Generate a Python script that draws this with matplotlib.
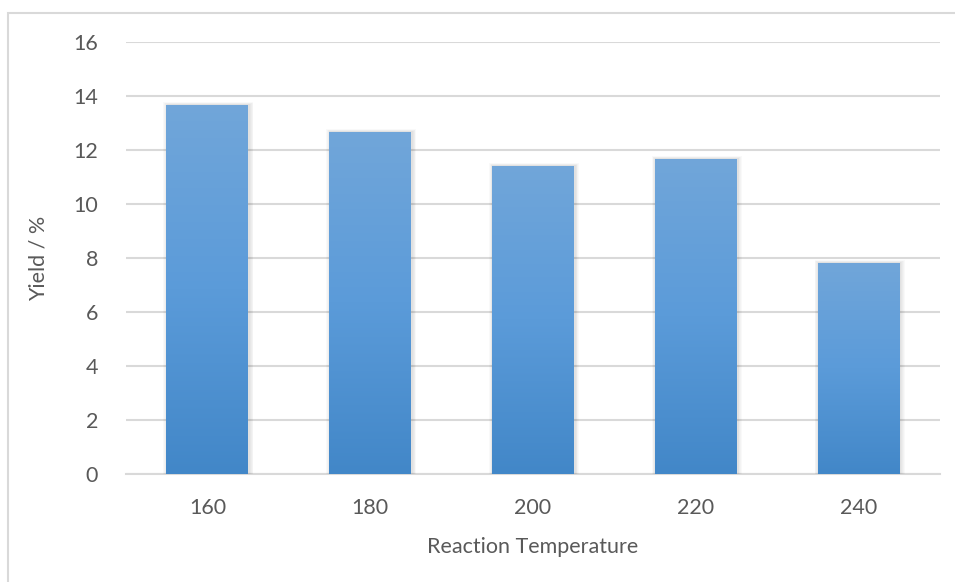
import numpy as np
import matplotlib.pyplot as plt
from matplotlib.patches import Rectangle
from matplotlib.colors import LinearSegmentedColormap

temperatures = ['160', '180', '200', '220', '240']
yields = [13.67, 12.67, 11.42, 11.67, 7.82]
y_ticks = [0, 2, 4, 6, 8, 10, 12, 14, 16]

plt.rcParams['font.family'] = ['Lato', 'DejaVu Sans']
text_color = '#595959'
grid_color = '#d9d9d9'
fs = 15.5

fig = plt.figure(figsize=(9.55, 5.82), dpi=100)
ax = fig.add_axes([126 / 955, 1 - 474 / 582, 814 / 955, 432 / 582])

# outer chart frame
fig.patches.append(Rectangle((8 / 955, -0.01), 1.0, 1 - 13 / 582 + 0.01,
                             transform=fig.transFigure, fill=False,
                             edgecolor=grid_color, linewidth=1.5))

x = np.arange(len(temperatures))
width = 0.503
bars = ax.bar(x, yields, width=width, color='none', zorder=3)

cmap = LinearSegmentedColormap.from_list('bar_grad', ['#4287c8', '#5b9bd9', '#71a6da'])
grad = np.linspace(0, 1, 256).reshape(-1, 1)

for bar in bars:
    x0, w, h = bar.get_x(), bar.get_width(), bar.get_height()
    # soft shadow around each bar, a little stronger on the right
    for i in range(1, 6):
        pad = 0.005 * i
        ax.add_patch(Rectangle((x0 - pad + 0.006, 0), w + 2 * pad, h + pad * 4,
                               facecolor='#000000', alpha=0.022,
                               edgecolor='none', zorder=2))
    im = ax.imshow(grad, cmap=cmap, aspect='auto', origin='lower',
                   extent=[x0, x0 + w, 0, h], zorder=3)
    im.set_clip_path(bar)

ax.set_xlim(-0.5, len(temperatures) - 0.5)
ax.set_ylim(0, 16)
ax.set_yticks(y_ticks)
ax.set_xticks(x)
ax.set_xticklabels(temperatures)
ax.yaxis.grid(True, color=grid_color, linewidth=1.5, zorder=0)
ax.set_axisbelow(True)

for side in ['top', 'right', 'left']:
    ax.spines[side].set_visible(False)
ax.spines['bottom'].set_color(grid_color)
ax.spines['bottom'].set_linewidth(1.5)
ax.spines['bottom'].set_zorder(1)

ax.tick_params(axis='both', length=0, labelsize=fs, colors=text_color)
ax.tick_params(axis='y', pad=20)
ax.tick_params(axis='x', pad=17)

ax.set_ylabel('Yield / %', fontsize=fs, color=text_color, labelpad=18)
ax.set_xlabel('Reaction Temperature', fontsize=fs, color=text_color, labelpad=14)

fig.savefig('out.png', dpi=100)
